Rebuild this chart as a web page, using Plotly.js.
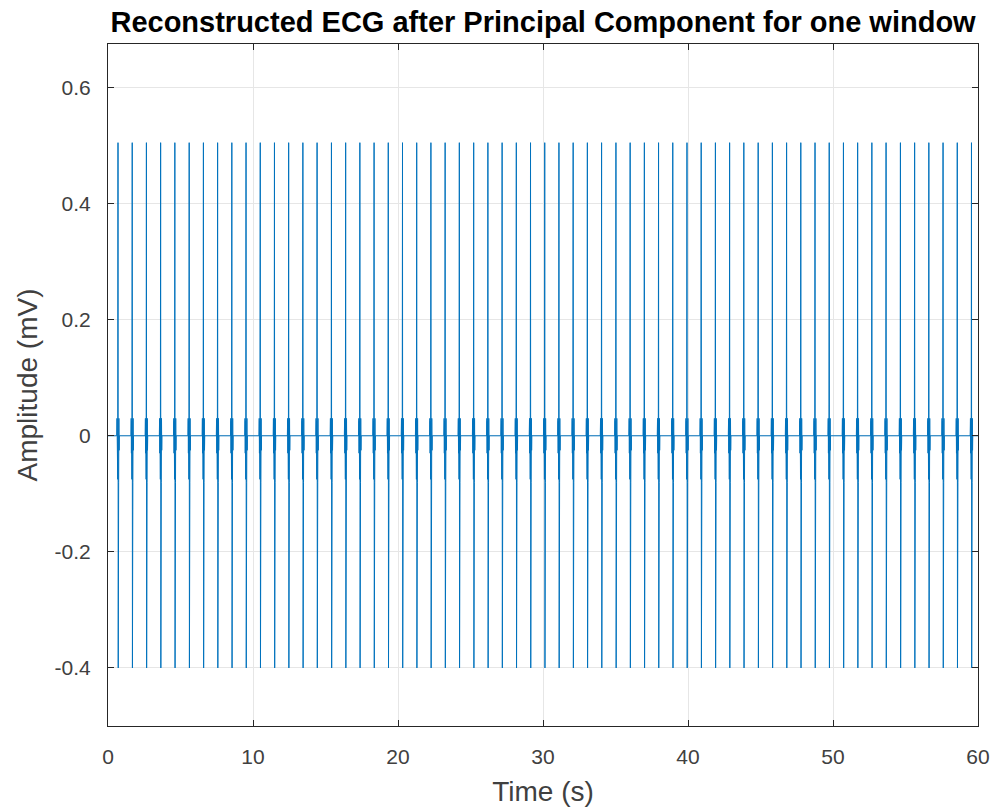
<!DOCTYPE html>
<html>
<head>
<meta charset="utf-8">
<script src="https://cdn.plot.ly/plotly-3.0.1.min.js"></script>
<style>html,body{margin:0;padding:0;background:#fff;}#chart{width:991px;height:809px;}</style>
</head>
<body>
<div id="chart"></div>
<script>
// R-peak times (s)
const beatTimes = [0.69, 1.67, 2.65, 3.63, 4.61, 5.60, 6.58, 7.56, 8.54, 9.52,
  10.50, 11.48, 12.46, 13.44, 14.42, 15.41, 16.39, 17.37, 18.35, 19.33,
  20.31, 21.29, 22.27, 23.25, 24.23, 25.22, 26.20, 27.18, 28.16, 29.14,
  30.12, 31.10, 32.08, 33.06, 34.04, 35.03, 36.01, 36.99, 37.97, 38.95,
  39.93, 40.91, 41.89, 42.87, 43.85, 44.84, 45.82, 46.80, 47.78, 48.76,
  49.74, 50.72, 51.70, 52.68, 53.66, 54.65, 55.63, 56.61, 57.59, 58.57, 59.55];
// One reconstructed beat: time offsets from the R peak (s) and amplitudes (mV)
const beatOffsets = [-0.09, -0.07, -0.055, -0.04, -0.02, 0, 0.015, 0.03, 0.045, 0.06, 0.075, 0.09];
const beatValues  = [0, 0.03, -0.03, 0.025, -0.075, 0.505, -0.40, 0.025, -0.08, 0.03, -0.025, 0];
const signalStart = 0, signalEnd = 60;
const xTickVals = [0, 10, 20, 30, 40, 50, 60];
const yTickVals = [-0.4, -0.2, 0, 0.2, 0.4, 0.6];
const yTickText = ['-0.4', '-0.2', '0', '0.2', '0.4', '0.6'];

const xs = [signalStart], ys = [0];
beatTimes.forEach(t => {
  beatOffsets.forEach((o, i) => { xs.push(t + o); ys.push(beatValues[i]); });
});
xs.push(signalEnd); ys.push(0);

const axisColor = '#262626';
const font = 'Liberation Sans, Arial, sans-serif';

Plotly.newPlot('chart', [{
  x: xs, y: ys, type: 'scatter', mode: 'lines',
  line: {color: '#0072BD', width: 1}, hoverinfo: 'skip'
}], {
  width: 991, height: 809,
  margin: {l: 108, r: 13, t: 44, b: 83},
  paper_bgcolor: '#ffffff', plot_bgcolor: '#ffffff',
  showlegend: false,
  title: {text: '<b>Reconstructed ECG after Principal Component for one window</b>',
    font: {family: font, size: 29, color: '#000000'},
    x: 0.548, xanchor: 'center', y: 0.973, yanchor: 'middle'},
  xaxis: {range: [0, 60], tickvals: xTickVals, ticktext: xTickVals.map(String),
    showgrid: true, gridcolor: '#e6e6e6', gridwidth: 1, zeroline: false,
    showline: true, linecolor: axisColor, linewidth: 1, mirror: 'ticks',
    ticks: 'inside', ticklen: 6, tickcolor: axisColor, ticklabelstandoff: 12,
    tickfont: {family: font, size: 21, color: '#404040'},
    title: {text: 'Time (s)', font: {family: font, size: 28, color: '#404040'}, standoff: 14}},
  yaxis: {range: [-0.5, 0.675], tickvals: yTickVals, ticktext: yTickText,
    showgrid: true, gridcolor: '#e6e6e6', gridwidth: 1, zeroline: false,
    showline: true, linecolor: axisColor, linewidth: 1, mirror: 'ticks',
    ticks: 'inside', ticklen: 6, tickcolor: axisColor, ticklabelstandoff: 12,
    tickfont: {family: font, size: 21, color: '#404040'},
    title: {text: 'Amplitude (mV)', font: {family: font, size: 28, color: '#404040'}, standoff: 8}}
}, {staticPlot: true, displayModeBar: false});
</script>
</body>
</html>
